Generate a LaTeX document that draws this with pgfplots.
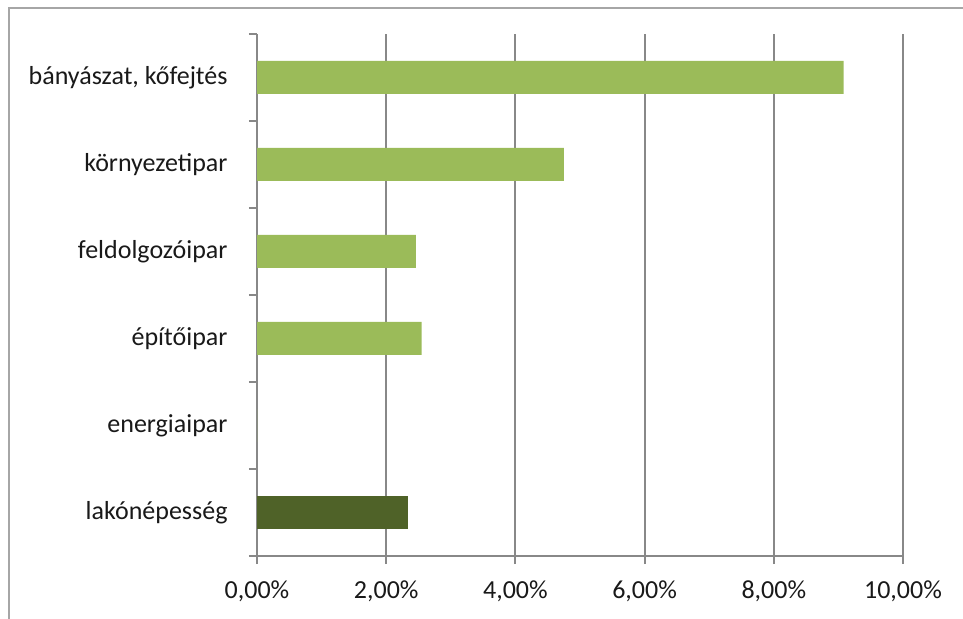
\documentclass[border=0pt]{standalone}
\usepackage{pgfplots}
\pgfplotsset{compat=1.18}
\usepackage{fontspec}
\setmainfont{Carlito}
\definecolor{lgreen}{HTML}{9BBB59}
\definecolor{dgreen}{HTML}{4F6228}
\definecolor{gridgray}{HTML}{888888}
\definecolor{framegray}{HTML}{A6A6A6}
\begin{document}
\begin{tikzpicture}
\path[use as bounding box] (0,0) rectangle (963bp,619bp);
\draw[framegray, line width=2bp] (9bp,-20bp) -- (9bp,611bp) -- (1000bp,611bp);
\begin{axis}[
  at={(257bp,63bp)}, anchor=south west,
  scale only axis, width=646bp, height=522bp,
  xmin=0, xmax=10, ymin=-0.5, ymax=5.5,
  axis lines=left, axis line style={gridgray, line width=2bp, -},
  xtick={0,2,...,10},
  xticklabels={{0,00\%},{2,00\%},{4,00\%},{6,00\%},{8,00\%},{10,00\%}},
  ytick={0,...,5},
  yticklabels={lakónépesség,energiaipar,építőipar,feldolgozóipar,környezetipar,{bányászat, kőfejtés}},
  minor ytick={-0.5,0.5,...,5.5},
  major y tick style={draw=none},
  minor tick length=8bp, major tick length=8bp,
  tick align=outside,
  tick style={gridgray, line width=2bp},
  xmajorgrids, grid style={gridgray, line width=2bp},
  ticklabel style={font=\fontsize{26bp}{30bp}\selectfont, text=black!90},
  xticklabel style={yshift=-13bp},
  yticklabel style={xshift=-18bp},
  xbar, bar width=33bp, bar shift=0pt,
  clip=false,
]
\addplot[fill=lgreen, draw=none] coordinates {(9.08,5) (4.75,4) (2.46,3) (2.55,2) (0,1)};
\addplot[fill=dgreen, draw=none] coordinates {(2.34,0)};
\end{axis}
\end{tikzpicture}
\end{document}
